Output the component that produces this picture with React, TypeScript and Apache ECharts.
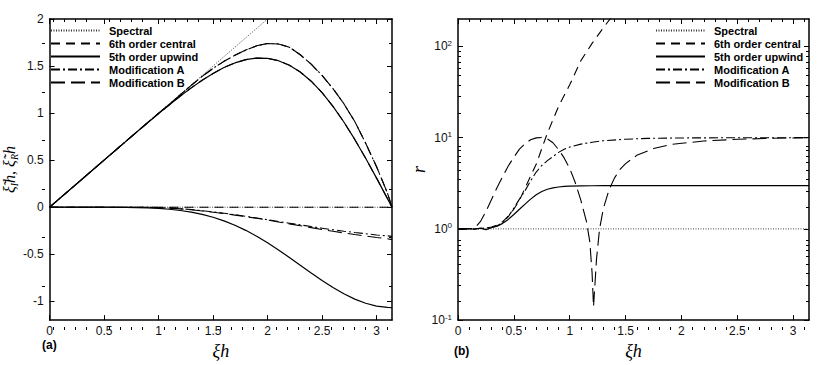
import React, { useEffect, useRef } from "react";
import * as echarts from "echarts";

// ---------- names ----------
const seriesNames = ["Spectral", "6th order central", "5th order upwind", "Modification A", "Modification B"];

// ---------- panel (a): modified wavenumber, real and imaginary parts ----------
const xA = [0, 0.1, 0.2, 0.3, 0.4, 0.5, 0.6, 0.7, 0.8, 0.9, 1.0, 1.1, 1.2, 1.3, 1.4, 1.5, 1.6, 1.7, 1.8, 1.9, 2.0, 2.1, 2.2, 2.3, 2.4, 2.5, 2.6, 2.7, 2.8, 2.9, 3.0, 3.1, 3.1416];
const spectralRealX = [0, 2];
const spectralRealY = [0, 2];
const zeroLineX = [0, 3.1416];
const zeroLineY = [0, 0];
const upwindReal = [0, 0.1, 0.2, 0.3, 0.4, 0.5, 0.6, 0.699, 0.799, 0.897, 0.994, 1.089, 1.181, 1.268, 1.349, 1.421, 1.484, 1.533, 1.568, 1.585, 1.582, 1.557, 1.509, 1.436, 1.339, 1.217, 1.072, 0.905, 0.72, 0.52, 0.309, 0.091, 0];
const upwindImag = [0, 0, 0, 0, 0, -0.0002, -0.0007, -0.0017, -0.0037, -0.0072, -0.013, -0.022, -0.035, -0.052, -0.076, -0.107, -0.145, -0.192, -0.246, -0.309, -0.379, -0.454, -0.534, -0.617, -0.699, -0.779, -0.854, -0.92, -0.977, -1.021, -1.051, -1.065, -1.067];
const modReal = [0, 0.1, 0.2, 0.3, 0.4, 0.5, 0.6, 0.7, 0.8, 0.9, 0.998, 1.095, 1.195, 1.295, 1.39, 1.475, 1.55, 1.615, 1.67, 1.715, 1.74, 1.735, 1.7, 1.62, 1.52, 1.4, 1.26, 1.1, 0.91, 0.68, 0.43, 0.15, 0];
const modAImag = [0, 0, 0, 0, 0, 0, 0, 0, 0, -0.001, -0.004, -0.009, -0.016, -0.025, -0.037, -0.05, -0.064, -0.08, -0.097, -0.115, -0.133, -0.152, -0.17, -0.188, -0.206, -0.223, -0.24, -0.255, -0.269, -0.282, -0.295, -0.305, -0.31];
const modBImag = [0, 0, 0, 0, 0, 0, 0, 0, 0, -0.001, -0.005, -0.01, -0.018, -0.028, -0.04, -0.053, -0.068, -0.084, -0.1, -0.118, -0.136, -0.157, -0.177, -0.197, -0.217, -0.237, -0.256, -0.274, -0.291, -0.307, -0.322, -0.335, -0.345];

// ---------- panel (b): ratio r (log scale) ----------
const rSpectralX = [0, 3.1416];
const rSpectral = [1, 1];
const rCentralX = [0, 0.1, 0.2, 0.25, 0.3, 0.35, 0.4, 0.45, 0.5, 0.55, 0.6, 0.65, 0.7, 0.75, 0.8, 0.9, 1.0, 1.1, 1.2, 1.3, 1.4];
const rCentral = [1, 1, 1.01, 1.02, 1.05, 1.1, 1.2, 1.38, 1.65, 2.05, 2.8, 3.8, 5.1, 7.6, 11.2, 22, 38, 70, 108, 160, 230];
const rUpwindX = [0, 0.05, 0.1, 0.15, 0.2, 0.25, 0.3, 0.35, 0.4, 0.45, 0.5, 0.55, 0.6, 0.65, 0.7, 0.75, 0.8, 0.85, 0.9, 0.95, 1.0, 1.1, 1.2, 1.3, 1.5, 2.0, 2.5, 3.0, 3.1416];
const rUpwind = [1, 1, 1.01, 0.99, 1.02, 0.98, 1.03, 1.07, 1.15, 1.27, 1.44, 1.64, 1.87, 2.12, 2.37, 2.57, 2.72, 2.82, 2.88, 2.92, 2.94, 2.96, 2.97, 2.98, 2.98, 2.98, 2.98, 2.98, 2.98];
const rModAX = [0, 0.1, 0.2, 0.3, 0.35, 0.4, 0.45, 0.5, 0.55, 0.6, 0.65, 0.7, 0.75, 0.8, 0.85, 0.9, 0.95, 1.0, 1.1, 1.2, 1.3, 1.5, 1.7, 2.0, 2.5, 3.0, 3.1416];
const rModA = [1, 1, 1.01, 1.04, 1.08, 1.17, 1.36, 1.69, 2.12, 2.62, 3.37, 4.2, 4.95, 5.6, 6.2, 6.9, 7.45, 7.9, 8.5, 8.9, 9.25, 9.62, 9.82, 9.93, 9.98, 10, 10];
const rModBX = [0, 0.1, 0.15, 0.2, 0.25, 0.3, 0.35, 0.4, 0.45, 0.5, 0.55, 0.6, 0.65, 0.7, 0.75, 0.8, 0.85, 0.9, 0.95, 1.0, 1.05, 1.1, 1.15, 1.18, 1.2, 1.213, 1.225, 1.24, 1.267, 1.3, 1.35, 1.4, 1.45, 1.5, 1.6, 1.75, 1.9, 2.2, 2.5, 2.8, 3.1416];
const rModB = [1, 1, 1.02, 1.2, 1.55, 2.1, 2.85, 3.75, 4.9, 6.1, 7.5, 8.6, 9.5, 9.95, 10.05, 9.7, 8.8, 7.4, 6.0, 4.6, 3.2, 2.05, 1.2, 0.72, 0.33, 0.14, 0.24, 0.47, 1.0, 1.65, 2.65, 3.6, 4.5, 5.2, 6.4, 7.6, 8.4, 9.2, 9.6, 9.84, 10];

// ---------- tick values ----------
const majorXTicks = [0, 0.5, 1, 1.5, 2, 2.5, 3];
const majorYTicksA = [-1, -0.5, 0, 0.5, 1, 1.5, 2];
const minorYTicksA = [-0.75, -0.25, 0.25, 0.75, 1.25, 1.75];
const majorYTicksB = [0.1, 1, 10, 100];

const minorXTicks: number[] = [];
for (let i = 1; i <= 31; i++) if (i % 5 !== 0) minorXTicks.push(i / 10);
const minorYTicksB: number[] = [];
[0.1, 1, 10].forEach((d) => {
  for (let k = 2; k <= 9; k++) minorYTicksB.push(+(k * d).toPrecision(3));
});

const FONT = "'Liberation Sans', Arial, Helvetica, sans-serif";
const SERIF = "'Liberation Serif', 'Times New Roman', serif";

const lineStyles: Record<string, any> = {
  "Spectral": { color: "#333", width: 0.9, type: [1, 1.5] },
  "6th order central": { color: "#000", width: 1.1, type: [9, 6] },
  "5th order upwind": { color: "#000", width: 1.2, type: "solid" },
  "Modification A": { color: "#000", width: 1.1, type: [9, 3, 2, 3] },
  "Modification B": { color: "#000", width: 1.1, type: [14, 6] },
};

function pairs(xs: number[], ys: number[]) {
  return xs.map((x, i) => [x, ys[i]]);
}

function line(name: string, xs: number[], ys: number[], xAxisIndex: number, yAxisIndex: number) {
  return {
    type: "line",
    name,
    data: pairs(xs, ys),
    xAxisIndex,
    yAxisIndex,
    symbol: "none",
    showSymbol: false,
    smooth: false,
    lineStyle: lineStyles[name],
    itemStyle: { color: "rgba(0,0,0,0)" },
    emphasis: { disabled: true },
    silent: true,
    clip: true,
  };
}

const tickLabel = { fontSize: 12, fontFamily: FONT, color: "#111" };

function xAxis(gridIndex: number, position: string, ticks: number[], len: number, opts: any = {}) {
  const main = !!opts.main;
  return {
    type: "value",
    gridIndex,
    position,
    min: 0,
    max: Math.PI,
    axisLine: { show: main, onZero: false, lineStyle: { color: "#000", width: 1.5 } },
    axisTick: { show: true, inside: true, length: len, customValues: ticks, lineStyle: { color: "#000", width: 1 } },
    axisLabel: opts.labels
      ? { show: true, customValues: majorXTicks, margin: 5, ...tickLabel }
      : { show: false },
    splitLine: { show: false },
    ...(opts.name
      ? {
          name: opts.name,
          nameLocation: "middle",
          nameGap: opts.nameGap,
          nameTextStyle: { fontFamily: SERIF, fontStyle: "italic", fontSize: 18, color: "#000" },
        }
      : {}),
  };
}

function yAxisA(gridIndex: number, position: string, ticks: number[], len: number, opts: any = {}) {
  const main = !!opts.main;
  return {
    type: "value",
    gridIndex,
    position,
    min: -1.2,
    max: 2,
    axisLine: { show: main, onZero: false, lineStyle: { color: "#000", width: 1.5 } },
    axisTick: { show: true, inside: true, length: len, customValues: ticks, lineStyle: { color: "#000", width: 1 } },
    axisLabel: opts.labels
      ? { show: true, customValues: majorYTicksA, margin: 6, ...tickLabel }
      : { show: false },
    splitLine: { show: false },
    ...(opts.name
      ? {
          name: "{a|ξ\u0303}{s|I}{a|h, ξ\u0303}{s|R}{a|h}",
          nameLocation: "middle",
          nameGap: 24,
          nameRotate: 90,
          nameTextStyle: {
            color: "#000",
            rich: {
              a: { fontFamily: SERIF, fontStyle: "italic", fontSize: 16, color: "#000", lineHeight: 20 },
              s: { fontFamily: SERIF, fontStyle: "italic", fontSize: 10, color: "#000", verticalAlign: "bottom", lineHeight: 10 },
            },
          },
        }
      : {}),
  };
}

function yAxisB(gridIndex: number, position: string, ticks: number[], len: number, opts: any = {}) {
  const main = !!opts.main;
  return {
    type: "log",
    logBase: 10,
    gridIndex,
    position,
    min: 0.1,
    max: 200,
    axisLine: { show: main, onZero: false, lineStyle: { color: "#000", width: 1.5 } },
    axisTick: { show: true, inside: true, length: len, customValues: ticks, lineStyle: { color: "#000", width: 1 } },
    axisLabel: opts.labels
      ? {
          show: true,
          customValues: majorYTicksB,
          margin: 6,
          formatter: (v: number) => `{b|10}{s|${Math.round(Math.log10(v))}}`,
          rich: {
            b: { fontSize: 12, fontFamily: FONT, color: "#111", lineHeight: 14 },
            s: { fontSize: 8, fontFamily: FONT, color: "#111", verticalAlign: "top", lineHeight: 8 },
          },
        }
      : { show: false },
    splitLine: { show: false },
    ...(opts.name
      ? {
          name: "r",
          nameLocation: "middle",
          nameGap: 20,
          nameRotate: 90,
          nameTextStyle: { fontFamily: SERIF, fontStyle: "italic", fontSize: 18, color: "#000" },
        }
      : {}),
  };
}

function legend(left: number) {
  return {
    show: true,
    orient: "vertical",
    left,
    top: 25,
    padding: 0,
    itemWidth: 49,
    itemHeight: 10,
    itemGap: 2,
    selectedMode: false,
    data: seriesNames,
    itemStyle: { opacity: 0 },
    textStyle: { fontFamily: FONT, fontWeight: "bold", fontSize: 11, color: "#000", padding: [0, 0, 0, 4] },
  };
}

export default function App() {
  const ref = useRef<HTMLDivElement>(null);

  useEffect(() => {
    if (!ref.current) return;
    const chart = echarts.init(ref.current, undefined, { renderer: "svg" });

    const gridA = { left: 42, top: 19, width: 350, height: 311 };
    const gridB = { left: 458, top: 19, width: 351, height: 311 };

    const option: any = {
      animation: false,
      backgroundColor: "#fff",
      grid: [
        { ...gridA, containLabel: false },
        { ...gridA, containLabel: false },
        { ...gridB, containLabel: false },
        { ...gridB, containLabel: false },
      ],
      xAxis: [
        xAxis(0, "bottom", majorXTicks, 5, { main: true, labels: true, name: "ξh", nameGap: 11 }),
        xAxis(0, "top", majorXTicks, 5, { main: true }),
        xAxis(1, "bottom", minorXTicks, 3),
        xAxis(1, "top", minorXTicks, 3),
        xAxis(2, "bottom", majorXTicks, 5, { main: true, labels: true, name: "ξh", nameGap: 15 }),
        xAxis(2, "top", majorXTicks, 5, { main: true }),
        xAxis(3, "bottom", minorXTicks, 3),
        xAxis(3, "top", minorXTicks, 3),
      ],
      yAxis: [
        yAxisA(0, "left", majorYTicksA, 5, { main: true, labels: true, name: true }),
        yAxisA(0, "right", majorYTicksA, 5, { main: true }),
        yAxisA(1, "left", minorYTicksA, 3),
        yAxisA(1, "right", minorYTicksA, 3),
        yAxisB(2, "left", majorYTicksB, 5, { main: true, labels: true, name: true }),
        yAxisB(2, "right", majorYTicksB, 5, { main: true }),
        yAxisB(3, "left", minorYTicksB, 3),
        yAxisB(3, "right", minorYTicksB, 3),
      ],
      legend: [legend(50), legend(655)],
      graphic: [
        { type: "text", left: 42, top: 339, style: { text: "(a)", font: `bold 12px ${FONT}`, fill: "#000" } },
        { type: "text", left: 454, top: 345, style: { text: "(b)", font: `bold 12px ${FONT}`, fill: "#000" } },
      ],
      series: [
        // panel (a)
        line("Spectral", spectralRealX, spectralRealY, 0, 0),
        line("Spectral", zeroLineX, zeroLineY, 0, 0),
        line("6th order central", xA, upwindReal, 0, 0),
        line("6th order central", zeroLineX, zeroLineY, 0, 0),
        line("5th order upwind", xA, upwindReal, 0, 0),
        line("5th order upwind", xA, upwindImag, 0, 0),
        line("Modification A", xA, modReal, 0, 0),
        line("Modification A", xA, modAImag, 0, 0),
        line("Modification B", xA, modReal, 0, 0),
        line("Modification B", xA, modBImag, 0, 0),
        // panel (b)
        line("Spectral", rSpectralX, rSpectral, 4, 4),
        line("6th order central", rCentralX, rCentral, 4, 4),
        line("5th order upwind", rUpwindX, rUpwind, 4, 4),
        line("Modification A", rModAX, rModA, 4, 4),
        line("Modification B", rModBX, rModB, 4, 4),
      ],
    };

    chart.setOption(option);
    return () => chart.dispose();
  }, []);

  return (
    <div
      ref={ref}
      style={{ position: "absolute", left: 0, top: 0, width: 830, height: 365, background: "#fff" }}
    />
  );
}
